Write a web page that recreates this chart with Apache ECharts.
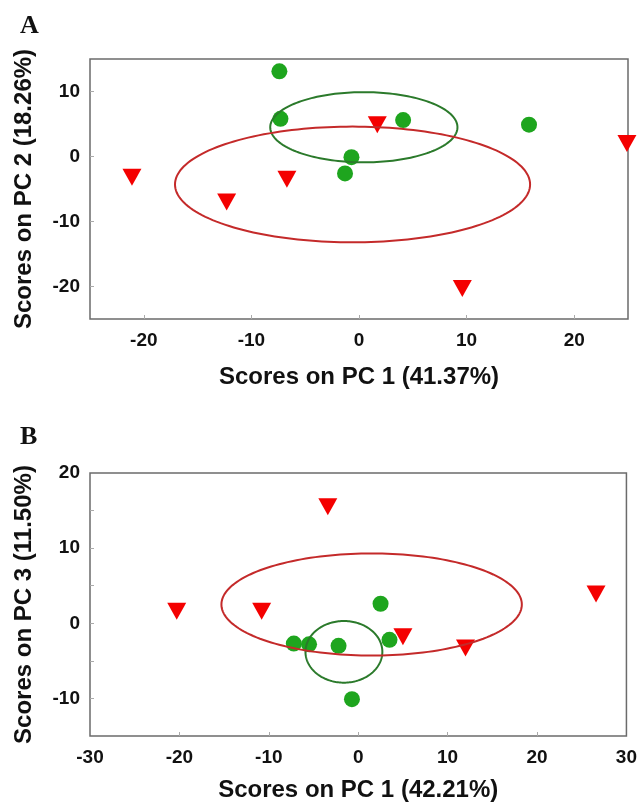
<!DOCTYPE html>
<html>
<head>
<meta charset="utf-8">
<script src="https://cdn.jsdelivr.net/npm/echarts@6/dist/echarts.min.js"></script>
<style>html,body{margin:0;padding:0;background:#fff;}#c{width:640px;height:803px;}</style>
</head>
<body>
<div id="c"></div>
<script>
// Panel A: PC1 vs PC2
const greenA = [[-7.4,13.1],[-7.3,5.8],[4.1,5.6],[15.8,4.9],[-0.7,-0.1],[-1.3,-2.6]];
const redA = [[1.7,4.9],[24.9,2.0],[-21.1,-3.2],[-6.7,-3.5],[-12.3,-7.0],[9.6,-20.3]];
// ellipse: [centerX, centerY, radiusX, radiusY]
const ellipseGreenA = [0.45, 4.5, 8.7, 5.4];
const ellipseRedA = [-0.6, -4.3, 16.5, 8.9];
// Panel B: PC1 vs PC3
const greenB = [[2.5,2.6],[-7.2,-2.7],[-5.5,-2.8],[-2.2,-3.0],[3.5,-2.2],[-0.7,-10.1]];
const redB = [[-3.4,15.5],[-20.3,1.6],[-10.8,1.6],[26.6,3.9],[5.0,-1.8],[12.0,-3.3]];
const ellipseGreenB = [-1.6, -3.8, 4.3, 4.1];
const ellipseRedB = [1.5, 2.5, 16.8, 6.8];
// ticks / labels
const xLabelsA = [-20,-10,0,10,20];
const yLabelsA = [-20,-10,0,10];
const xLabelsB = [-30,-20,-10,0,10,20,30];
const xTicksB = [-20,-10,0,10,20];
const yLabelsB = [-10,0,10,20];
const yTicksB = [-10,-5,0,5,10,15];
const xNameA = 'Scores on PC 1 (41.37%)';
const yNameA = 'Scores on PC 2 (18.26%)';
const xNameB = 'Scores on PC 1 (42.21%)';
const yNameB = 'Scores on PC 3 (11.50%)';

const GREEN = '#1ea51e', RED = '#f40000';
const EGREEN = '#2b7a2b', ERED = '#c42a2a';
const FONT = 'Liberation Sans, Arial, sans-serif';

function axis(gridIndex, min, max, labels, ticks, name, nameGap, isY) {
  return {
    type: 'value', gridIndex, min, max,
    name, nameLocation: 'middle', nameGap,
    nameTextStyle: { fontFamily: FONT, fontWeight: 'bold', fontSize: 24, color: '#111' },
    axisLine: { show: false, onZero: false },
    splitLine: { show: false },
    axisTick: { show: true, inside: true, length: 4, customValues: ticks, lineStyle: { color: '#aaa', width: 1 } },
    axisLabel: { customValues: labels, showMinLabel: true, showMaxLabel: true,
      fontFamily: FONT, fontWeight: 'bold', fontSize: 19, color: '#111', margin: isY ? 10 : 12 }
  };
}

function ellipseSeries(xi, yi, params, color) {
  return {
    type: 'custom', xAxisIndex: xi, yAxisIndex: yi, clip: false, z: 5,
    data: [params], encode: { x: 0, y: 1 },
    renderItem: function (p, api) {
      const cx = api.value(0), cy = api.value(1), rx = api.value(2), ry = api.value(3);
      const pts = [];
      for (let i = 0; i <= 180; i++) {
        const t = 2 * Math.PI * i / 180;
        pts.push(api.coord([cx + rx * Math.cos(t), cy + ry * Math.sin(t)]));
      }
      return { type: 'polyline', shape: { points: pts }, style: { fill: null, stroke: color, lineWidth: 2 } };
    }
  };
}

function scatter(xi, yi, data, kind) {
  if (kind === 'circle') {
    return { type: 'scatter', xAxisIndex: xi, yAxisIndex: yi, data, clip: false, z: 3,
      symbol: 'circle', symbolSize: 16, itemStyle: { color: GREEN, opacity: 1 } };
  }
  return { type: 'scatter', xAxisIndex: xi, yAxisIndex: yi, data, clip: false, z: 3,
    symbol: 'triangle', symbolRotate: 180, symbolSize: [19, 17], itemStyle: { color: RED, opacity: 1 } };
}

const chart = echarts.init(document.getElementById('c'), null, { renderer: 'canvas' });
chart.setOption({
  animation: false,
  backgroundColor: '#fff',
  grid: [
    { left: 90, top: 59, width: 538, height: 260, show: true, borderColor: '#6b6b6b', borderWidth: 1.5, backgroundColor: 'transparent' },
    { left: 90, top: 473, width: 538, height: 263, show: true, borderColor: '#6b6b6b', borderWidth: 1.5, backgroundColor: 'transparent' }
  ],
  xAxis: [
    axis(0, -25, 25, xLabelsA, xLabelsA, xNameA, 46, false),
    axis(1, -30, 30, xLabelsB, xTicksB, xNameB, 42, false)
  ],
  yAxis: [
    axis(0, -25, 15, yLabelsA, yLabelsA, yNameA, 54, true),
    axis(1, -15, 20, yLabelsB, yTicksB, yNameB, 54, true)
  ],
  graphic: [
    { type: 'text', left: 20, top: 13, style: { text: 'A', font: 'bold 26px "Liberation Serif", serif', fill: '#111' } },
    { type: 'text', left: 20, top: 424, style: { text: 'B', font: 'bold 26px "Liberation Serif", serif', fill: '#111' } }
  ],
  series: [
    scatter(0, 0, greenA, 'circle'),
    scatter(0, 0, redA, 'triangle'),
    ellipseSeries(0, 0, ellipseGreenA, EGREEN),
    ellipseSeries(0, 0, ellipseRedA, ERED),
    scatter(1, 1, greenB, 'circle'),
    scatter(1, 1, redB, 'triangle'),
    ellipseSeries(1, 1, ellipseGreenB, EGREEN),
    ellipseSeries(1, 1, ellipseRedB, ERED)
  ]
});
</script>
</body>
</html>
